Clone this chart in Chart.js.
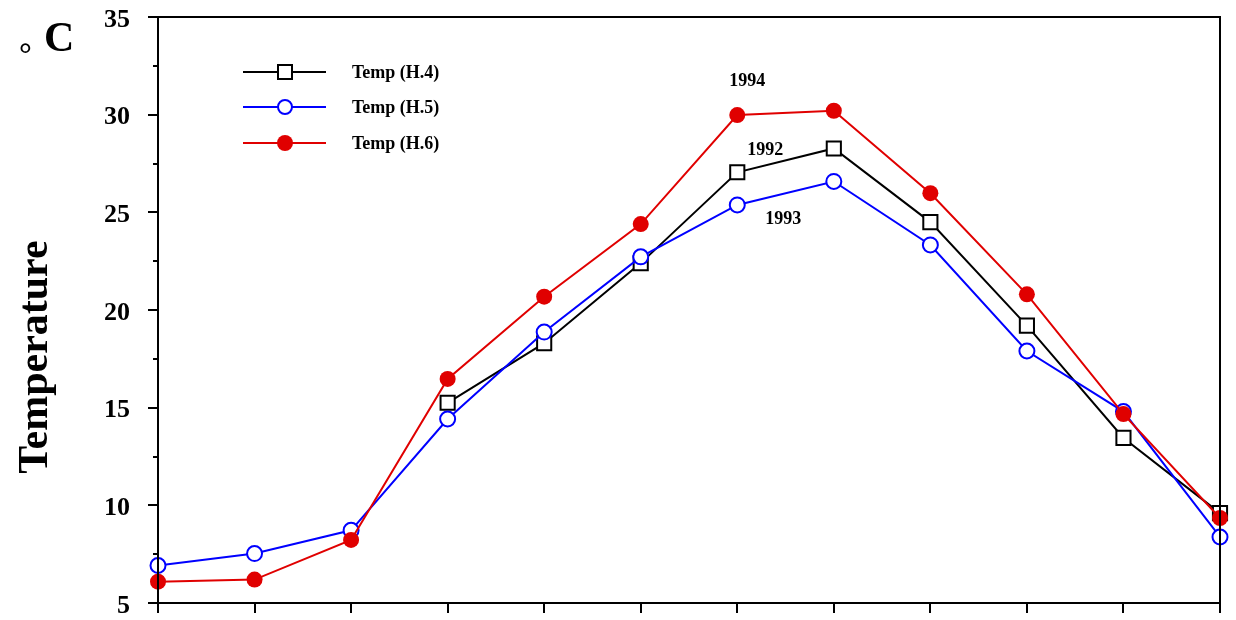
<!DOCTYPE html>
<html>
<head>
<meta charset="utf-8">
<script src="https://cdn.jsdelivr.net/npm/chart.js@4/dist/chart.umd.min.js"></script>
<style>
  html, body { margin: 0; padding: 0; background: #fff; }
  #wrap { width: 1236px; height: 620px; position: relative; }
</style>
</head>
<body>
<div id="wrap"><canvas id="c" width="1236" height="620"></canvas></div>
<script>
const categories = ['1','2','3','4','5','6','7','8','9','10','11','12'];
const tempH4 = [null, null, null, 15.25, 18.3, 22.4, 27.05, 28.27, 24.5, 19.2, 13.45, 9.6];
const tempH5 = [6.92, 7.53, 8.72, 14.42, 18.87, 22.72, 25.38, 26.58, 23.33, 17.9, 14.8, 8.38];
const tempH6 = [6.09, 6.2, 8.23, 16.47, 20.68, 24.4, 29.98, 30.2, 25.98, 20.8, 14.67, 9.35];
const yMajorTicks = [5, 10, 15, 20, 25, 30, 35];
const seriesNames = ['Temp (H.4)', 'Temp (H.5)', 'Temp (H.6)'];
const yearNotes = [
  { text: '1994', idx: 6, series: 'H6' },
  { text: '1992', idx: 6, series: 'H4' },
  { text: '1993', idx: 6, series: 'H5' }
];

const SERIF = '"Liberation Serif", "Times New Roman", serif';
const RED = '#e00000', BLUE = '#0000ff', BLACK = '#000000';

const framePlugin = {
  id: 'frame',
  afterDraw(chart) {
    const ctx = chart.ctx, a = chart.chartArea;
    const ys = chart.scales.y, xs = chart.scales.x;
    ctx.save();
    ctx.strokeStyle = '#000';
    ctx.lineWidth = 2;
    ctx.strokeRect(a.left, a.top, a.right - a.left, a.bottom - a.top);
    // y ticks: major every 5, minor at 2.5
    for (let v = 5; v <= 35; v += 2.5) {
      const y = Math.round(ys.getPixelForValue(v));
      const len = (v % 5 === 0) ? 10 : 5;
      ctx.beginPath();
      ctx.moveTo(a.left - len, y);
      ctx.lineTo(a.left, y);
      ctx.stroke();
    }
    // x ticks at each category
    for (let i = 0; i < categories.length; i++) {
      const x = Math.round(xs.getPixelForValue(i));
      ctx.beginPath();
      ctx.moveTo(x, a.bottom);
      ctx.lineTo(x, a.bottom + 10);
      ctx.stroke();
    }
    // Axis titles
    ctx.fillStyle = '#000';
    ctx.font = 'bold 42px ' + SERIF;
    ctx.textAlign = 'center';
    ctx.textBaseline = 'middle';
    ctx.save();
    ctx.translate(36, 357);
    ctx.rotate(-Math.PI / 2);
    ctx.fillText('Temperature', 0, 0);
    ctx.restore();
    // degree C
    ctx.textAlign = 'left';
    ctx.textBaseline = 'alphabetic';
    ctx.font = 'bold 42px ' + SERIF;
    ctx.fillText('C', 44, 51);
    ctx.font = 'bold 32px ' + SERIF;
    ctx.fillText('\u00B0', 19, 65);

    // legend
    const colors = [BLACK, BLUE, RED];
    const rows = [72, 107, 143];
    for (let k = 0; k < 3; k++) {
      const y = rows[k];
      ctx.strokeStyle = colors[k];
      ctx.lineWidth = 2;
      ctx.beginPath();
      ctx.moveTo(243, y);
      ctx.lineTo(326, y);
      ctx.stroke();
      if (k === 0) {
        ctx.fillStyle = '#fff';
        ctx.fillRect(278, y - 7, 14, 14);
        ctx.strokeRect(278, y - 7, 14, 14);
      } else if (k === 1) {
        ctx.fillStyle = '#fff';
        ctx.beginPath(); ctx.arc(285, y, 7, 0, Math.PI * 2); ctx.fill(); ctx.stroke();
      } else {
        ctx.fillStyle = RED;
        ctx.beginPath(); ctx.arc(285, y, 8, 0, Math.PI * 2); ctx.fill();
      }
      ctx.fillStyle = '#000';
      ctx.font = 'bold 18px ' + SERIF;
      ctx.textAlign = 'left';
      ctx.textBaseline = 'middle';
      ctx.fillText(seriesNames[k], 352, y + 1);
    }
    // year notes
    const noteOffsets = { H6: [10, -34], H4: [28, -22], H5: [46, 14] };
    const seriesData = { H4: tempH4, H5: tempH5, H6: tempH6 };
    ctx.font = 'bold 18px ' + SERIF;
    ctx.textAlign = 'center';
    for (const n of yearNotes) {
      const x = xs.getPixelForValue(n.idx) + noteOffsets[n.series][0];
      const y = ys.getPixelForValue(seriesData[n.series][n.idx]) + noteOffsets[n.series][1];
      ctx.fillText(n.text, x, y);
    }
    ctx.restore();
  }
};

new Chart(document.getElementById('c'), {
  type: 'line',
  data: {
    labels: categories,
    datasets: [
      { label: seriesNames[0], data: tempH4, borderColor: BLACK, borderWidth: 2,
        pointStyle: 'rect', pointRadius: 10, pointBorderWidth: 2,
        pointBackgroundColor: '#fff', pointBorderColor: BLACK, order: 3, clip: false, spanGaps: false },
      { label: seriesNames[1], data: tempH5, borderColor: BLUE, borderWidth: 2,
        pointStyle: 'circle', pointRadius: 7.5, pointBorderWidth: 2,
        pointBackgroundColor: '#fff', pointBorderColor: BLUE, order: 2, clip: false },
      { label: seriesNames[2], data: tempH6, borderColor: RED, borderWidth: 2,
        pointStyle: 'circle', pointRadius: 8, pointBorderWidth: 0,
        pointBackgroundColor: RED, pointBorderColor: RED, order: 1, clip: false }
    ]
  },
  options: {
    responsive: false,
    animation: false,
    devicePixelRatio: 1,
    layout: { padding: { top: 17, right: 16, left: 0, bottom: 0 } },
    plugins: { legend: { display: false }, tooltip: { enabled: false } },
    elements: { line: { tension: 0 } },
    scales: {
      x: {
        type: 'category',
        offset: false,
        grid: { display: false, drawTicks: false },
        border: { display: false },
        ticks: { display: false },
        afterFit(s) { s.height = 17; s.paddingLeft = 0; s.paddingRight = 0; }
      },
      y: {
        min: 5, max: 35,
        grid: { display: false, drawTicks: false },
        border: { display: false },
        afterBuildTicks(s) { s.ticks = yMajorTicks.map(v => ({ value: v })); },
        ticks: {
          padding: 28,
          labelOffset: 3,
          color: '#000',
          font: { family: SERIF, size: 26, weight: 'bold' }
        },
        afterFit(s) { s.width = 158; s.paddingTop = 0; s.paddingBottom = 0; }
      }
    }
  },
  plugins: [framePlugin]
});
</script>
</body>
</html>
